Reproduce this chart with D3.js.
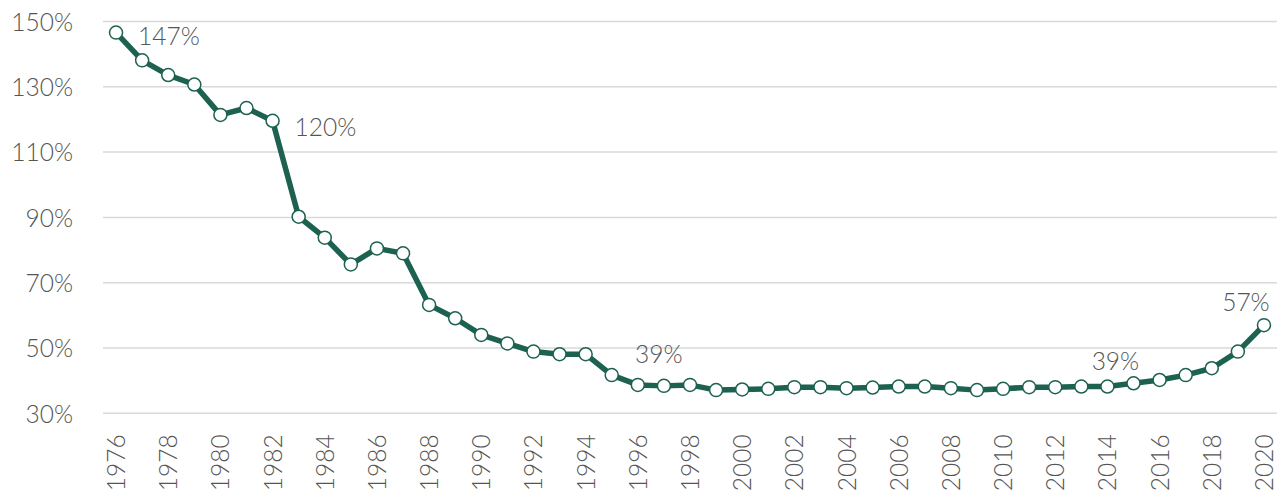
<!DOCTYPE html>
<html><head><meta charset="utf-8">
<script src="https://cdn.jsdelivr.net/npm/d3@7"></script>
<style>
html,body{margin:0;padding:0;background:#fff;overflow:hidden}
text{font-family:Lato,"Open Sans",sans-serif;font-weight:300;fill:#555555}
</style></head><body>
<svg id="c" width="1284" height="499"></svg>
<script>
const years = d3.range(1976, 2021);
const values = [146.6,138.1,133.6,130.7,121.4,123.5,119.6,90.2,83.8,75.6,80.5,79.0,63.2,59.1,54.0,51.4,48.9,48.1,48.1,41.7,38.7,38.4,38.7,37.1,37.3,37.5,38.0,38.0,37.7,37.9,38.2,38.2,37.7,37.1,37.5,38.0,38.0,38.2,38.2,39.2,40.2,41.7,43.8,48.9,57.0];
const yTicks = [30,50,70,90,110,130,150];
const xTickYears = years.filter(y => y % 2 === 0);
const labelYears = [1976,1982,1996,2014,2020];
const labelTexts = ["147%","120%","39%","39%","57%"];

(function(){
const svg = d3.select("#c");
const mLeft = 103, mRight = 1277, mTop = 21.5, mBottom = 413.3;
const x = d3.scaleBand().domain(years).range([mLeft, mRight]);
const y = d3.scaleLinear().domain([30,150]).range([mBottom, mTop]);
const cx = yr => x(yr) + x.bandwidth()/2;
const fs = "24.5px";

svg.append("g").selectAll("line").data(yTicks).join("line")
  .attr("x1", mLeft).attr("x2", mRight)
  .attr("y1", d => y(d)).attr("y2", d => y(d))
  .attr("stroke", "#d9d9d9").attr("stroke-width", 1.5);

const yAxis = d3.axisLeft(y).tickValues(yTicks).tickFormat(d => d + "%").tickSize(0).tickPadding(0);
const gy = svg.append("g").attr("transform", "translate(73,0)").call(yAxis);
gy.attr("font-family", null).attr("font-size", null);
gy.select(".domain").remove();
gy.selectAll("text").style("font-size",fs).attr("fill",null).attr("dy","0.36em");

const xAxis = d3.axisBottom(x).tickValues(xTickYears).tickSize(0).tickPadding(0);
const gx = svg.append("g").attr("transform", `translate(0,${mBottom})`).call(xAxis);
gx.attr("font-family", null).attr("font-size", null);
gx.select(".domain").remove();
gx.selectAll("text").style("font-size",fs).attr("fill",null)
  .attr("text-anchor","end").attr("dy",null).attr("y",0)
  .attr("transform","translate(9,21) rotate(-90)");

const line = d3.line().x((d,i) => cx(years[i])).y(d => y(d));
svg.append("path").datum(values).attr("d", line)
  .attr("fill","none").attr("stroke","#1d6150").attr("stroke-width",5.5).attr("stroke-linejoin","round");

svg.append("g").selectAll("circle").data(values).join("circle")
  .attr("cx",(d,i) => cx(years[i])).attr("cy", d => y(d)).attr("r",6.5)
  .attr("fill","#fff").attr("stroke","#1d6150").attr("stroke-width",1.5);

const offs = {1976:[22,12,"start"],1982:[22,15,"start"],1996:[21,-22,"middle"],2014:[8,-17,"middle"],2020:[-18,-14,"middle"]};
svg.append("g").selectAll("text").data(labelYears).join("text")
  .attr("x", d => cx(d) + offs[d][0])
  .attr("y", d => y(values[years.indexOf(d)]) + offs[d][1])
  .attr("text-anchor", d => offs[d][2])
  .style("font-size",fs)
  .text((d,i) => labelTexts[i]);
})();
</script>
</body></html>
